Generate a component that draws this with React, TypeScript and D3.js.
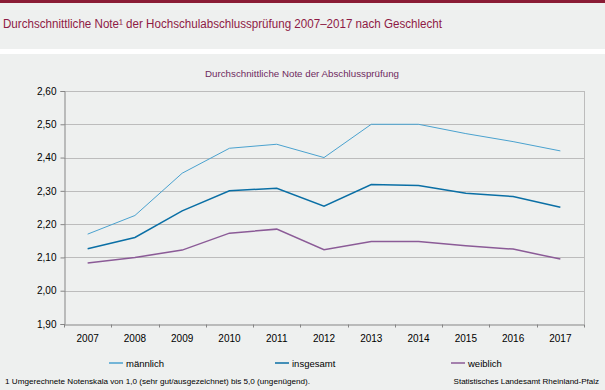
// App.tsx
import React, { useEffect, useRef } from 'react';
import * as d3 from 'd3';

const years = ['2007', '2008', '2009', '2010', '2011', '2012', '2013', '2014', '2015', '2016', '2017'];
const maennlich = [2.17, 2.226, 2.353, 2.428, 2.44, 2.4, 2.5, 2.5, 2.472, 2.448, 2.42];
const insgesamt = [2.126, 2.16, 2.24, 2.3, 2.308, 2.254, 2.319, 2.316, 2.293, 2.283, 2.251];
const weiblich = [2.083, 2.1, 2.122, 2.173, 2.185, 2.123, 2.148, 2.148, 2.135, 2.125, 2.095];
const yTicks = [1.9, 2.0, 2.1, 2.2, 2.3, 2.4, 2.5, 2.6];

const seriesNames = ['männlich', 'insgesamt', 'weiblich'];
const seriesColors = ['#4aa2cf', '#0a6fa5', '#8b5b97'];
const seriesWidths = [1, 1.5, 1.5];

const App = () => {
  const ref = useRef<SVGSVGElement>(null);

  useEffect(() => {
    const svg = d3.select(ref.current);
    svg.selectAll('*').remove();

    const width = 605;
    const height = 390;
    const margin = { top: 91, right: 21, bottom: 66, left: 64 };
    const font = 'Liberation Sans, Arial, sans-serif';

    // backgrounds
    svg.append('rect').attr('width', width).attr('height', height).attr('fill', '#eef0ef');
    svg.append('rect').attr('width', width).attr('height', 3).attr('fill', '#8a1c35');
    svg.append('rect').attr('y', 49).attr('width', width).attr('height', 5).attr('fill', '#ffffff');

    svg.append('text')
      .attr('x', 3).attr('y', 28)
      .attr('font-family', font).attr('font-size', 12)
      .attr('fill', '#8e1a45')
      .attr('textLength', 439).attr('lengthAdjust', 'spacingAndGlyphs')
      .text('Durchschnittliche Note¹ der Hochschulabschlussprüfung 2007–2017 nach Geschlecht');

    svg.append('text')
      .attr('x', 302).attr('y', 77)
      .attr('text-anchor', 'middle')
      .attr('font-family', font).attr('font-size', 9.5)
      .attr('fill', '#6e2a5e')
      .attr('textLength', 194).attr('lengthAdjust', 'spacingAndGlyphs')
      .text('Durchschnittliche  Note der Abschlussprüfung');

    const x = d3.scaleBand()
      .domain(years)
      .range([margin.left, width - margin.right]);

    const y = d3.scaleLinear()
      .domain([1.9, 2.6])
      .range([height - margin.bottom, margin.top]);

    // gridlines
    svg.append('g')
      .selectAll('line')
      .data(yTicks.slice(1))
      .join('line')
      .attr('x1', margin.left).attr('x2', width - margin.right)
      .attr('y1', (d) => Math.round(y(d)) + 0.5).attr('y2', (d) => Math.round(y(d)) + 0.5)
      .attr('stroke', '#bcbcbc');

    // right border
    svg.append('line')
      .attr('x1', width - margin.right + 0.5).attr('x2', width - margin.right + 0.5)
      .attr('y1', margin.top).attr('y2', height - margin.bottom)
      .attr('stroke', '#bcbcbc');

    // y axis
    const yAxis = svg.append('g')
      .attr('transform', `translate(${margin.left + 0.5},0)`)
      .call(d3.axisLeft(y).tickValues(yTicks).tickSize(4).tickPadding(4)
        .tickFormat((d) => d3.format('.2f')(d as number).replace('.', ',')));
    yAxis.select('.domain').attr('stroke', '#858585');
    yAxis.selectAll('.tick line').attr('stroke', '#858585');
    yAxis.selectAll('text').attr('font-family', font).attr('font-size', 10).attr('fill', '#000');

    // x axis
    const xAxis = svg.append('g')
      .attr('transform', `translate(0,${height - margin.bottom + 0.5})`)
      .call(d3.axisBottom(x).tickSize(0).tickPadding(10));
    xAxis.select('.domain').attr('stroke', '#858585');
    xAxis.selectAll('text').attr('font-family', font).attr('font-size', 10).attr('fill', '#000');
    xAxis.append('g')
      .selectAll('line')
      .data([...years, 'end'])
      .join('line')
      .attr('x1', (d, i) => Math.round(margin.left + i * x.bandwidth()) + 0.5)
      .attr('x2', (d, i) => Math.round(margin.left + i * x.bandwidth()) + 0.5)
      .attr('y1', 0).attr('y2', 3)
      .attr('stroke', '#858585');

    // lines
    const line = d3.line<number>()
      .x((d, i) => (x(years[i]) as number) + x.bandwidth() / 2)
      .y((d) => y(d));

    [maennlich, insgesamt, weiblich].forEach((s, i) => {
      svg.append('path')
        .datum(s)
        .attr('d', line)
        .attr('fill', 'none')
        .attr('stroke', seriesColors[i])
        .attr('stroke-width', seriesWidths[i]);
    });

    // legend
    const legendX = [109, 275, 451];
    const lg = svg.append('g')
      .selectAll('g')
      .data(seriesNames)
      .join('g')
      .attr('transform', (d, i) => `translate(${legendX[i]},363)`);
    lg.append('line')
      .attr('x1', 0).attr('x2', 14).attr('y1', 0).attr('y2', 0)
      .attr('stroke', (d, i) => seriesColors[i]).attr('stroke-width', 1.5);
    lg.append('text')
      .attr('x', 17).attr('y', 3.5)
      .attr('font-family', font).attr('font-size', 9.5).attr('fill', '#000')
      .text((d) => d);

    // footer
    svg.append('text')
      .attr('x', 5).attr('y', 384)
      .attr('font-family', font).attr('font-size', 8).attr('fill', '#000')
      .attr('textLength', 305).attr('lengthAdjust', 'spacingAndGlyphs')
      .text('1 Umgerechnete  Notenskala von  1,0  (sehr gut/ausgezeichnet)  bis 5,0  (ungenügend).');
    svg.append('text')
      .attr('x', 599).attr('y', 384)
      .attr('text-anchor', 'end')
      .attr('font-family', font).attr('font-size', 8).attr('fill', '#000')
      .text('Statistisches Landesamt Rheinland-Pfalz');
  }, []);

  return (
    <svg ref={ref} width={605} height={390} style={{ position: 'absolute', left: 0, top: 0 }}>
      {/* chart renders here */}
    </svg>
  );
};

export default App;
